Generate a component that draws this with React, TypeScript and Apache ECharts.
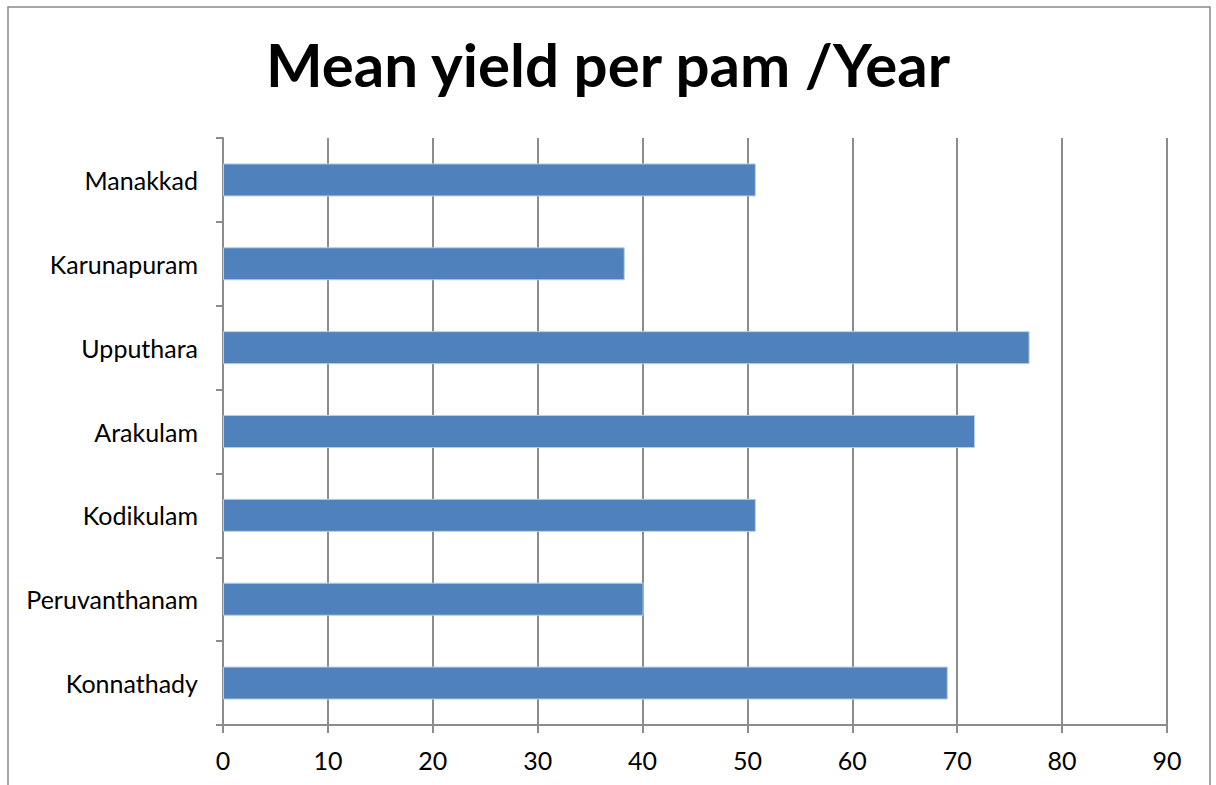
import React, { useEffect, useRef } from "react";
import * as echarts from "echarts";

const categories = ["Manakkad", "Karunapuram", "Upputhara", "Arakulam", "Kodikulam", "Peruvanthanam", "Konnathady"];
const values = [50.8, 38.3, 76.9, 71.7, 50.8, 40.1, 69.1];
const xTicks = { min: 0, max: 90, interval: 10 };
const titleText = "Mean yield per pam /Year";

export default function App() {
  const ref = useRef<HTMLDivElement>(null);
  useEffect(() => {
    if (!ref.current) return;
    const chart = echarts.init(ref.current, null, { renderer: "svg" });
    const gray = "#8c8c8c";
    chart.setOption({
      animation: false,
      backgroundColor: "#ffffff",
      title: {
        text: titleText,
        left: "center",
        top: 29,
        textStyle: { fontFamily: "Lato", fontWeight: "bold", fontSize: 60, color: "#000" },
      },
      graphic: [
        {
          type: "rect",
          shape: { x: 8, y: 7, width: 1202, height: 800 },
          style: { fill: "none", stroke: "#8a8a8a", lineWidth: 1.5 },
          silent: true,
        },
      ],
      grid: { left: 223, right: 49, top: 138, bottom: 60, containLabel: false },
      xAxis: {
        type: "value",
        min: xTicks.min,
        max: xTicks.max,
        interval: xTicks.interval,
        axisLine: { show: true, lineStyle: { color: gray, width: 2 } },
        axisTick: { show: true, length: 8, lineStyle: { color: gray, width: 2 } },
        splitLine: { show: true, lineStyle: { color: gray, width: 2 } },
        axisLabel: { fontFamily: "Lato", fontSize: 25, color: "#000", margin: 22 },
      },
      yAxis: {
        type: "category",
        data: categories,
        inverse: true,
        axisLine: { show: true, lineStyle: { color: gray, width: 2 } },
        axisTick: { show: true, length: 7, lineStyle: { color: gray, width: 2 } },
        axisLabel: { fontFamily: "Lato", fontSize: 25, color: "#000", margin: 25 },
      },
      series: [
        {
          type: "bar",
          data: values,
          barWidth: 33,
          itemStyle: { color: "#4f81bd", borderColor: "#b9cde5", borderWidth: 1 },
        },
      ],
    });
    return () => chart.dispose();
  }, []);
  return (
    <div
      ref={ref}
      style={{ position: "fixed", left: 0, top: 0, width: 1216, height: 785 }}
    />
  );
}
